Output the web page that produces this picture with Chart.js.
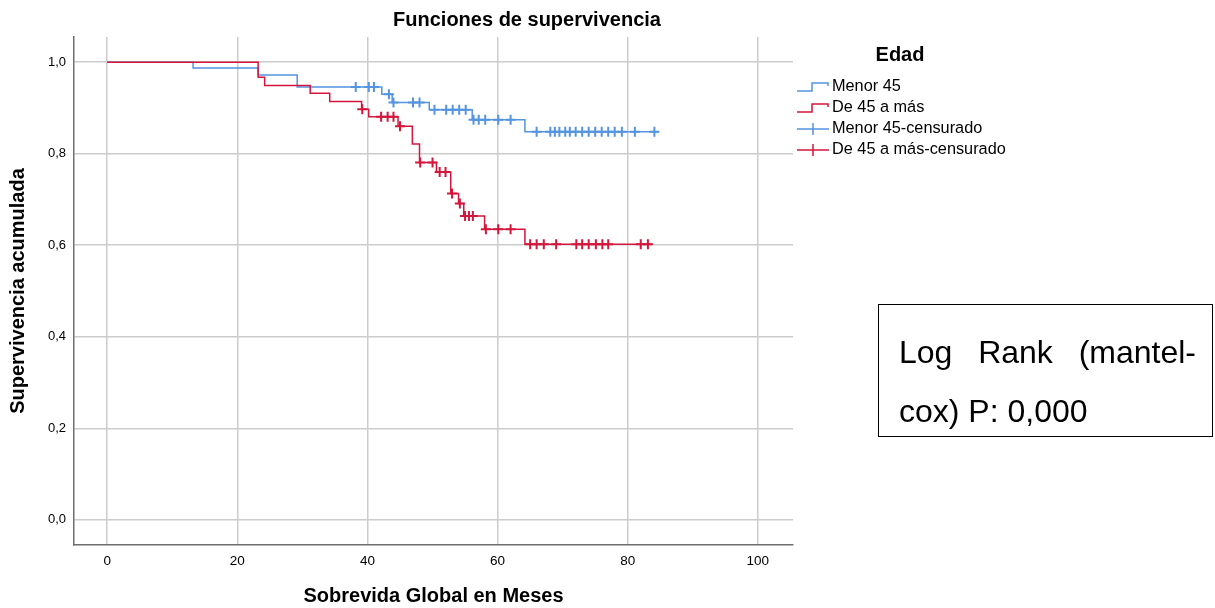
<!DOCTYPE html>
<html>
<head>
<meta charset="utf-8">
<script src="https://cdn.jsdelivr.net/npm/chart.js@4/dist/chart.umd.min.js"></script>
<style>
  html, body { margin: 0; padding: 0; background: #fff; }
  #wrap { position: relative; width: 1215px; height: 608px; }
  #logrank {
    position: absolute; left: 878px; top: 304px; width: 297px; height: 91px;
    border: 1px solid #000; padding: 20px 16px 20px 20px;
    font-family: "Liberation Sans", Arial, sans-serif; font-size: 32px; line-height: 58px; color: #000;
  }
  #logrank .l1 { text-align: justify; text-align-last: justify; margin-top: -2px; }
  #logrank .l2 { margin-top: 1px; }
</style>
</head>
<body>
<div id="wrap">
  <canvas id="km" width="1215" height="608"></canvas>
  <div id="logrank"><div class="l1">Log Rank (mantel-</div><div class="l2">cox) P: 0,000</div></div>
</div>
<script>
    "use strict";

    // Data
    var xTicks = [0, 20, 40, 60, 80, 100];
    var yTicks = [0, 0.2, 0.4, 0.6, 0.8, 1.0];

    var menorTimes = [0, 13.2, 23.2, 29.2, 42.2, 43.8, 49.5, 56.1, 64.2];
    var menorSurv = [1.0, 0.987, 0.972, 0.946, 0.930, 0.912, 0.896, 0.874, 0.848];
    var menorCensored = [38.2, 40.2, 41.0, 43.3, 44.0, 47.0, 48.0, 50.3, 52.1, 53.1, 54.1, 55.1,
        56.3, 57.1, 58.1, 60.1, 62.0, 66.0, 68.1, 68.8, 69.5, 70.4, 71.1, 72.0, 73.0, 74.0,
        75.0, 76.0, 77.0, 78.0, 79.1, 81.1, 84.1];
    var menorEnd = 84.7;

    var mayorTimes = [0, 23.2, 24.2, 31.2, 34.2, 39.1, 40.2, 44.7, 46.9, 48.0, 50.6, 52.8, 54.0, 54.8, 58.0, 64.2];
    var mayorSurv = [1.0, 0.967, 0.949, 0.932, 0.914, 0.897, 0.881, 0.860, 0.821, 0.781, 0.760, 0.713, 0.691, 0.664, 0.635, 0.602];
    var mayorCensored = [39.2, 42.1, 43.1, 44.0, 45.0, 48.1, 50.0, 51.1, 52.0, 53.0, 54.2, 55.0, 55.6,
        56.2, 58.2, 60.1, 62.0, 65.0, 66.0, 67.1, 69.0, 72.1, 73.0, 74.0, 75.1, 76.1, 77.0, 82.0, 83.1];
    var mayorEnd = 83.8;

    var labels = ["Menor 45", "De 45 a más", "Menor 45-censurado", "De 45 a más-censurado"];

    var BLUE = "rgb(84,148,224)";
    var RED = "rgb(212,22,60)";
    var FONT = "'Liberation Sans', Arial, sans-serif";

    // step line points
    function stepPoints(times, surv, end) {
        var pts = times.map(function (t, i) { return { x: t, y: surv[i] }; });
        pts.push({ x: end, y: surv[surv.length - 1] });
        return pts;
    }

    // censored marks sit on the curve level at their time
    function censorPoints(cens, times, surv) {
        return cens.map(function (t) {
            var level = surv[0];
            for (var i = 0; i < times.length; i++) {
                if (times[i] <= t) level = surv[i];
            }
            return { x: t, y: level };
        });
    }

    // Title + legend drawn on the canvas
    var decor = {
        id: "decor",
        afterDraw: function (chart) {
            var ctx = chart.ctx;
            ctx.save();
            ctx.fillStyle = "#000";
            ctx.textBaseline = "middle";
            ctx.textAlign = "center";
            ctx.font = "bold 20px " + FONT;
            ctx.fillText("Funciones de supervivencia", 527, 20);
            ctx.font = "bold 20px " + FONT;
            ctx.fillText("Edad", 900, 55);

            ctx.textAlign = "left";
            ctx.font = "16.3px " + FONT;
            var rows = [87, 108, 129, 150];
            var cols = [BLUE, RED, BLUE, RED];
            rows.forEach(function (y, i) {
                ctx.strokeStyle = cols[i];
                ctx.lineWidth = 1.5;
                ctx.beginPath();
                if (i < 2) {
                    ctx.moveTo(797, y + 4);
                    ctx.lineTo(812, y + 4);
                    ctx.lineTo(812, y - 4);
                    ctx.lineTo(828, y - 4);
                    ctx.lineTo(828, y - 1);
                } else {
                    ctx.moveTo(797, y);
                    ctx.lineTo(829, y);
                    ctx.moveTo(813, y - 6);
                    ctx.lineTo(813, y + 6);
                }
                ctx.stroke();
                ctx.fillText(labels[i], 832, y);
            });
            ctx.restore();
        }
    };

    new Chart(document.getElementById("km"), {
        type: "scatter",
        data: {
            datasets: [
                {
                    label: labels[0],
                    data: stepPoints(menorTimes, menorSurv, menorEnd),
                    showLine: true,
                    stepped: true,
                    borderColor: BLUE,
                    borderWidth: 1.5,
                    pointRadius: 0,
                    order: 4
                },
                {
                    label: labels[1],
                    data: stepPoints(mayorTimes, mayorSurv, mayorEnd),
                    showLine: true,
                    stepped: true,
                    borderColor: RED,
                    borderWidth: 1.5,
                    pointRadius: 0,
                    order: 2
                },
                {
                    label: labels[2],
                    data: censorPoints(menorCensored, menorTimes, menorSurv),
                    showLine: false,
                    pointStyle: "cross",
                    pointRadius: 5,
                    pointBorderWidth: 2,
                    borderColor: BLUE,
                    order: 3
                },
                {
                    label: labels[3],
                    data: censorPoints(mayorCensored, mayorTimes, mayorSurv),
                    showLine: false,
                    pointStyle: "cross",
                    pointRadius: 5,
                    pointBorderWidth: 2,
                    borderColor: RED,
                    order: 1
                }
            ]
        },
        options: {
            responsive: false,
            animation: false,
            layout: { padding: { left: 0, top: 37, right: 422, bottom: 0 } },
            plugins: {
                legend: { display: false },
                tooltip: { enabled: false },
                title: { display: false }
            },
            scales: {
                x: {
                    type: "linear",
                    min: -5.1,
                    max: 105.4,
                    afterFit: function (s) { s.height = 63; },
                    afterBuildTicks: function (s) {
                        s.ticks = xTicks.map(function (v) { return { value: v }; });
                    },
                    ticks: { color: "#000", font: { family: FONT, size: 13.5 }, padding: 8, maxRotation: 0 },
                    grid: { color: "#cccccc", lineWidth: 1.5, drawTicks: false },
                    border: { color: "#6e6e6e", width: 1.5 },
                    title: {
                        display: true,
                        text: "Sobrevida Global en Meses",
                        color: "#000",
                        font: { family: FONT, size: 20, weight: "bold" },
                        padding: { top: 0, bottom: 0 }
                    }
                },
                y: {
                    type: "linear",
                    min: -0.055,
                    max: 1.055,
                    afterFit: function (s) { s.width = 74; },
                    afterBuildTicks: function (s) {
                        s.ticks = yTicks.map(function (v) { return { value: v }; });
                    },
                    ticks: {
                        color: "#000",
                        font: { family: FONT, size: 13 },
                        padding: 8,
                        callback: function (v) { return v.toFixed(1).replace(".", ","); }
                    },
                    grid: { color: "#cccccc", lineWidth: 1.5, drawTicks: false },
                    border: { color: "#6e6e6e", width: 1.5 },
                    title: {
                        display: true,
                        text: "Supervivencia acumulada",
                        color: "#000",
                        font: { family: FONT, size: 20, weight: "bold" },
                        padding: { top: 6, bottom: 0 }
                    }
                }
            }
        },
        plugins: [decor]
    });
</script>
</body>
</html>
